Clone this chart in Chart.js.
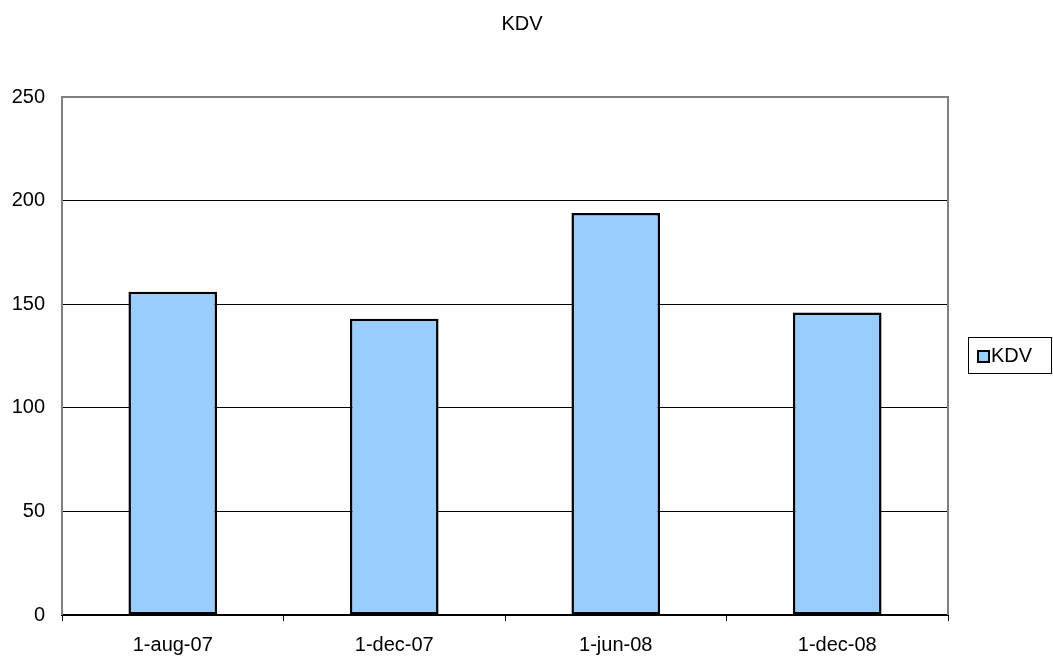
<!DOCTYPE html>
<html>
<head>
<meta charset="utf-8">
<script src="https://cdn.jsdelivr.net/npm/chart.js@4/dist/chart.umd.min.js"></script>
<style>
  body { margin: 0; background: #fff; }
  #wrap { position: relative; width: 1053px; height: 658px; font-family: "Liberation Sans", Arial, sans-serif; }
  #title { position: absolute; left: 0; width: 1044px; top: 12px; text-align: center; font-size: 20px; color: #000; }
  #legend { position: absolute; left: 968px; top: 337px; width: 82px; height: 35px; border: 1px solid #000; box-sizing: content-box; }
  #legend .sw { position: absolute; left: 8px; top: 12px; width: 9px; height: 9px; background: #99ccff; border: 2px solid #000; }
  #legend .lb { position: absolute; left: 22px; top: 6px; font-size: 20px; color: #000; }
</style>
</head>
<body>
<div id="wrap">
  <canvas id="kdvChart" width="1053" height="658"></canvas>
  <div id="title">KDV</div>
  <div id="legend"><div class="sw"></div><div class="lb">KDV</div></div>
</div>
<script>
const categories = ['1-aug-07', '1-dec-07', '1-jun-08', '1-dec-08'];
const kdvValues = [156, 143, 194, 146];
const yTicks = [0, 50, 100, 150, 200, 250];

// gray frame round the plot area
const frame = {
    id: 'frame',
    afterDraw(chart) {
        const a = chart.chartArea;
        const ctx = chart.ctx;
        ctx.save();
        ctx.strokeStyle = '#808080';
        ctx.lineWidth = 2;
        ctx.beginPath();
        ctx.moveTo(a.left, a.bottom);
        ctx.lineTo(a.left, a.top);
        ctx.lineTo(a.right, a.top);
        ctx.lineTo(a.right, a.bottom);
        ctx.stroke();
        ctx.restore();
    }
};

const ctx = document.getElementById('kdvChart').getContext('2d');
new Chart(ctx, {
    type: 'bar',
    data: {
        labels: categories,
        datasets: [{
            label: 'KDV',
            data: kdvValues,
            backgroundColor: '#99ccff',
            borderColor: '#000000',
            borderWidth: 2.5,
            borderSkipped: false,
            barPercentage: 0.4,
            categoryPercentage: 1.0
        }]
    },
    options: {
        responsive: false,
        animation: false,
        layout: { padding: { left: 0, right: 105, top: 97, bottom: 0 } },
        plugins: {
            legend: { display: false },
            title: { display: false },
            tooltip: { enabled: false }
        },
        scales: {
            x: {
                offset: true,
                grid: {
                    offset: true,
                    drawOnChartArea: false,
                    drawTicks: true,
                    tickLength: 6,
                    color: '#000'
                },
                border: { display: true, color: '#000', width: 2 },
                ticks: {
                    color: '#000',
                    padding: 12,
                    maxRotation: 0,
                    font: { family: '"Liberation Sans", Arial, sans-serif', size: 20 }
                },
                afterFit(scale) { scale.height = 43; }
            },
            y: {
                min: 0,
                max: 250,
                afterBuildTicks(scale) { scale.ticks = yTicks.map(v => ({ value: v })); },
                grid: {
                    drawTicks: false,
                    color: c => (c.tick.value === 0 || c.tick.value === 250) ? 'rgba(0,0,0,0)' : '#000',
                    lineWidth: 1
                },
                border: { display: false },
                ticks: {
                    color: '#000',
                    padding: 17,
                    font: { family: '"Liberation Sans", Arial, sans-serif', size: 20 }
                },
                afterFit(scale) { scale.width = 62; }
            }
        }
    },
    plugins: [frame]
});
</script>
</body>
</html>
